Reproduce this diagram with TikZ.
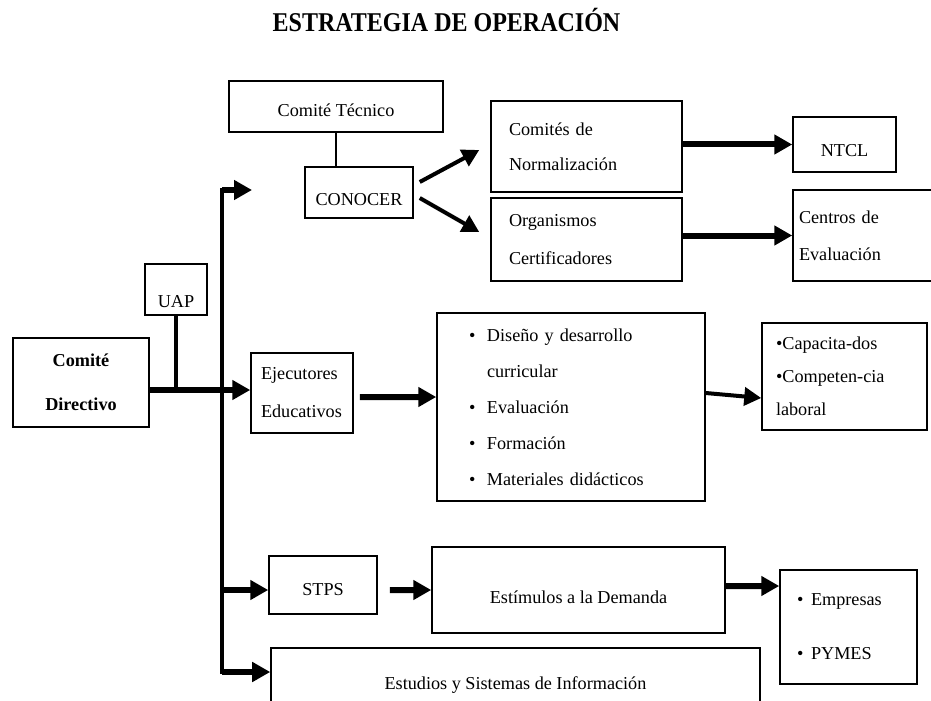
\documentclass[tikz,border=0pt]{standalone}
\usepackage{fontspec}
\setmainfont{Liberation Serif}
\usetikzlibrary{arrows.meta}
\hyphenpenalty=10000
\exhyphenpenalty=10000
\tikzset{
caja/.style={draw, line width=1.5bp, inner sep=0pt, font=\fontsize{18.2bp}{36bp}\selectfont},
linea/.style={text height=#1, text depth=0pt},
salto/.style={font=\fontsize{18.2bp}{#1}\selectfont},
flecha/.style={line width=6bp, -{Triangle[length=18bp,width=19bp]}},
flechita/.style={line width=4bp, -{Triangle[length=17bp,width=18bp]}},
tronco/.style={line width=4.5bp, line cap=rect},
enlace/.style={line width=1.5bp}
}

\begin{document}
\begin{tikzpicture}[x=1bp, y=-1bp]
    \useasboundingbox (0,0) rectangle (931,701);
    \clip (0,0) rectangle (931,701);
    \node[font=\fontsize{24bp}{28bp}\bfseries, linea=18bp, inner sep=0pt] (titulo) at (446.5,23) {\scalebox{1}[1.13]{ESTRATEGIA DE OPERACIÓN}};
    % arriba
    \node[caja, minimum width=214bp, minimum height=51bp, linea=21bp] (tecnico) at (336,106.5) {Comité Técnico};
    \node[caja, minimum width=108bp, minimum height=51bp, linea=25bp] (conocer) at (359,192.5) {CONOCER};
    \node[caja, minimum width=191bp, minimum height=91bp, inner xsep=18bp, text width=155bp, align=left, salto=35bp] (comites) at (586.5,146.5) {Comités de\\Normalización};
    \node[caja, minimum width=191bp, minimum height=83bp, inner xsep=18bp, text width=155bp, align=left, salto=38bp] (organismos) at (586.5,239.5) {Organismos\\Certificadores};
    \node[caja, minimum width=103bp, minimum height=55bp, linea=25bp] (ntcl) at (844.5,144.5) {NTCL};
    \node[caja, minimum width=157bp, minimum height=91bp, inner xsep=6bp, text width=145bp, align=left, salto=37bp] (centros) at (871.5,235.5) {Centros de\\Evaluación};
    % centro
    \node[caja, minimum width=62bp, minimum height=51bp, linea=35bp] (uap) at (176,289.5) {UAP};
    \node[caja, minimum width=136bp, minimum height=89bp, align=center, font=\fontsize{18.2bp}{44bp}\bfseries] (directivo) at (81,382.5) {Comité\\Directivo};
    \node[caja, minimum width=102bp, minimum height=80bp, inner xsep=10bp, text width=82bp, align=left, salto=38bp] (ejecutores) at (302,393) {Ejecutores\\Educativos};
    \node[caja, minimum width=268bp, minimum height=188bp, inner xsep=32bp, text width=204bp, align=left, salto=36bp] (bullets) at (571,407) {\makebox[18bp][l]{\textbullet}Diseño y desarrollo\\\hspace*{18bp}curricular\\\makebox[18bp][l]{\textbullet}Evaluación\\\makebox[18bp][l]{\textbullet}Formación\\\makebox[18bp][l]{\textbullet}Materiales didácticos};
    \node[caja, minimum width=165bp, minimum height=107bp, inner xsep=14bp, text width=137bp, align=left, salto=33bp] (capacita) at (844.5,376.5) {\textbullet{}Capacita-dos\\\textbullet{}Competen-cia\\laboral};
    % abajo
    \node[caja, minimum width=108bp, minimum height=58bp, linea=20bp] (stps) at (323,585) {STPS};
    \node[caja, minimum width=293bp, minimum height=86bp, linea=27bp] (estimulos) at (578.5,590) {Estímulos a la Demanda};
    \node[caja, minimum width=137bp, minimum height=114bp, inner xsep=17bp, text width=103bp, align=left, salto=54bp] (empresas) at (848.5,627) {\makebox[14bp][l]{\textbullet}Empresas\\\makebox[14bp][l]{\textbullet}PYMES};
    \node[caja, minimum width=489bp, minimum height=70bp, linea=12bp] (estudios) at (515.5,683) {Estudios y Sistemas de Información};
    % tronco y ramas
    \coordinate (ramaT) at (222,190);
    \coordinate (ramaB) at (222,672);
    \coordinate (cruce) at (222,390);
    \coordinate (puntaT) at (252,190);
    \draw[tronco] (ramaT) -- (ramaB);
    \draw[flecha] (ramaT) -- (puntaT);
    \draw[flecha] (directivo.east |- cruce) -- (ejecutores.west |- cruce);
    \draw[tronco] (uap.south) -- (uap.south |- cruce);
    \draw[flecha] (ramaT |- estimulos.west) -- (stps.west |- estimulos.west);
    \draw[flecha] (ramaB) -- (estudios.west |- ramaB);
    \draw[enlace] (tecnico.south) -- (tecnico.south |- conocer.north);
    \draw[flechita] ([xshift=6bp,yshift=10.5bp]conocer.east) -- ([xshift=-11bp,yshift=-3.5bp]comites.west);
    \draw[flechita] ([xshift=6bp,yshift=-5.5bp]conocer.east) -- ([xshift=-11bp,yshift=7.5bp]organismos.west);
    \draw[flecha] (comites.east |- ntcl.west) -- (ntcl.west);
    \draw[flecha] (organismos.east |- centros.west) -- (centros.west);
    \draw[flecha] ([xshift=6bp,yshift=-4bp]ejecutores.east) -- ([yshift=10bp]bullets.west);
    \draw[flechita] ([yshift=14bp]bullets.east) -- ([yshift=-21.5bp]capacita.west);
    \draw[flecha] ([xshift=12bp,yshift=-5bp]stps.east) -- (estimulos.west);
    \draw[flecha] ([yshift=4bp]estimulos.east) -- ([yshift=41bp]empresas.west);
\end{tikzpicture}
\end{document}
